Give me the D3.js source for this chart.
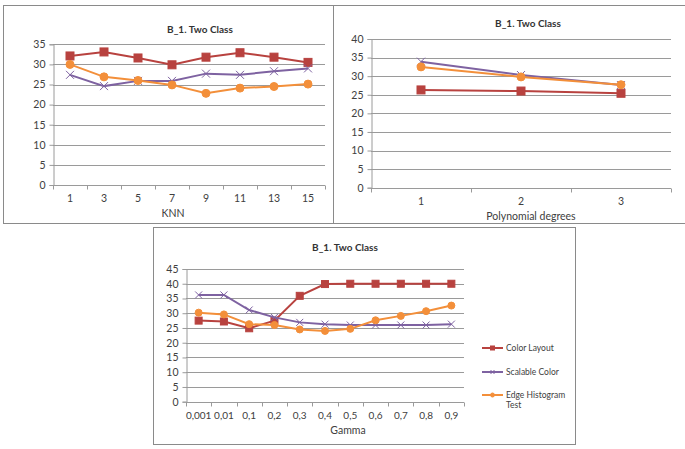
<!DOCTYPE html>
<html><head><meta charset="utf-8">
<script src="https://cdn.jsdelivr.net/npm/d3@7"></script>
<style>
body{margin:0;background:#fff;}
svg{display:block;font-family:Lato,"Open Sans",sans-serif;}
</style></head><body>
<svg id="c" width="685" height="449"></svg>
<script>
const seriesNames = ["Color Layout","Scalable Color","Edge Histogram Test"];
const colors = ["#B8423F","#7E62A1","#F38F3A"];
const markers = ["square","cross","circle"];

const knnCats = ["1","3","5","7","9","11","13","15"];
const knnColor = [32.1,33.1,31.6,29.9,31.8,32.9,31.8,30.5];
const knnScal  = [27.4,24.6,25.9,25.9,27.7,27.4,28.3,29.0];
const knnEdge  = [30.0,26.9,26.0,24.9,22.8,24.1,24.5,25.1];
const knnTicks = [0,5,10,15,20,25,30,35];

const polyCats = ["1","2","3"];
const polyColor = [26.3,26.0,25.4];
const polyScal  = [33.9,30.3,27.6];
const polyEdge  = [32.5,29.8,27.7];
const polyTicks = [0,5,10,15,20,25,30,35,40];

const gamCats = ["0,001","0,01","0,1","0,2","0,3","0,4","0,5","0,6","0,7","0,8","0,9"];
const gamColor = [27.5,27.2,24.9,27.5,35.9,39.9,40,40,40,40,40];
const gamScal  = [36.2,36.2,31.1,28.6,26.9,26.3,26.0,26.0,26.0,26.0,26.3];
const gamEdge  = [30.2,29.6,26.3,26.0,24.5,24.0,24.7,27.6,29.1,30.7,32.6];
const gamTicks = [0,5,10,15,20,25,30,35,40,45];

const svg = d3.select("#c");
const txt = "#404040";
const grid = "#9a9a9a";

function panel(o){
  svg.append("rect").attr("x",o.box[0]+0.5).attr("y",o.box[1]+0.5)
    .attr("width",o.box[2]).attr("height",o.box[3])
    .attr("fill","#fff").attr("stroke","#8a8a8a").attr("stroke-width",1);
  const x = d3.scaleBand().domain(o.cats).range([o.left,o.right]).padding(0);
  const y = d3.scaleLinear().domain([0,o.ymax]).range([o.bottom,o.top]);
  const g = svg.append("g");
  g.selectAll("line.grid").data(o.ticks.filter(t=>t>0)).enter().append("line")
    .attr("x1",o.left).attr("x2",o.right)
    .attr("y1",d=>Math.round(y(d))+0.5).attr("y2",d=>Math.round(y(d))+0.5)
    .attr("stroke",grid).attr("stroke-width",1.2);
  const ya = d3.axisLeft(y).tickValues(o.ticks).tickSize(4).tickPadding(4);
  const yg = g.append("g").attr("transform",`translate(${Math.round(o.left)+0.5},0)`).call(ya);
  yg.select(".domain").attr("stroke",grid);
  yg.selectAll(".tick line").attr("stroke",grid);
  yg.selectAll(".tick text").attr("fill",txt).style("font-size","10.5px").style("font-family","Lato,'Open Sans',sans-serif");
  const xa = d3.axisBottom(x).tickSize(0).tickPadding(9);
  const xg = g.append("g").attr("transform",`translate(0,${Math.round(o.bottom)+0.5})`).call(xa);
  xg.select(".domain").attr("stroke",grid).attr("d",`M${o.left},0H${o.right}`);
  xg.selectAll(".tick text").attr("fill",txt).style("font-size",o.xfs||"10.5px").style("font-family","Lato,'Open Sans',sans-serif");
  const edges = o.cats.map(c=>x(c)).concat([x.range()[1]]);
  xg.selectAll("line.tk").data(edges).enter().append("line")
    .attr("x1",d=>Math.round(d)+0.5).attr("x2",d=>Math.round(d)+0.5).attr("y1",0).attr("y2",4)
    .attr("stroke",grid);
  svg.append("text").attr("x",o.titleX).attr("y",o.titleY).attr("text-anchor","middle")
    .attr("fill","#333").style("font-size","10px").style("font-weight","bold").text("B_1. Two Class");
  svg.append("text").attr("x",o.xlabX).attr("y",o.xlabY).attr("text-anchor","middle")
    .attr("fill",txt).style("font-size","10.5px").text(o.xlab);
  o.series.forEach((vals,i)=>{
    const pts = vals.map((v,j)=>[x(o.cats[j])+x.bandwidth()/2, y(v)]);
    g.append("path").attr("d",d3.line()(pts)).attr("fill","none")
      .attr("stroke",colors[i]).attr("stroke-width",2);
    drawMarkers(g, pts, i, o.ms);
  });
}

function drawMarkers(g, pts, i, s){
  const m = markers[i];
  pts.forEach(p=>{
    if(m==="square"){
      g.append("rect").attr("x",p[0]-s/2).attr("y",p[1]-s/2).attr("width",s).attr("height",s)
        .attr("fill",colors[i]).attr("stroke",colors[i]);
    } else if(m==="circle"){
      g.append("circle").attr("cx",p[0]).attr("cy",p[1]).attr("r",s/2)
        .attr("fill",colors[i]).attr("stroke",colors[i]);
    } else {
      const h=s/2;
      g.append("path").attr("d",`M${p[0]-h},${p[1]-h}L${p[0]+h},${p[1]+h}M${p[0]-h},${p[1]+h}L${p[0]+h},${p[1]-h}`)
        .attr("stroke",colors[i]).attr("stroke-width",1).attr("fill","none");
    }
  });
}

panel({box:[3,5,330,218], cats:knnCats, ticks:knnTicks, ymax:35,
  left:53, right:325, top:44.3, bottom:185, titleX:200, titleY:33,
  xlab:"KNN", xlabX:173, xlabY:217, ms:8,
  series:[knnColor,knnScal,knnEdge]});

panel({box:[333,5,360,218], cats:polyCats, ticks:polyTicks, ymax:40,
  left:371, right:671, top:39, bottom:187.7, titleX:528, titleY:27,
  xlab:"Polynomial degrees", xlabX:531, xlabY:220, ms:8,
  series:[polyColor,polyScal,polyEdge]});

panel({box:[153,227,422,217], cats:gamCats, ticks:gamTicks, ymax:45,
  left:186, right:464, top:269, bottom:401.7, titleX:345, titleY:251,
  xlab:"Gamma", xlabX:348, xlabY:434, ms:7, xfs:"10px",
  series:[gamColor,gamScal,gamEdge]});

const lg = svg.append("g");
const legY = [348,372,395];
seriesNames.forEach((n,i)=>{
  lg.append("line").attr("x1",482).attr("x2",503).attr("y1",legY[i]).attr("y2",legY[i])
    .attr("stroke",colors[i]).attr("stroke-width",2);
  drawMarkers(lg, [[492.5,legY[i]]], i, 4);
});
lg.append("text").attr("x",506).attr("y",legY[0]+3).attr("fill",txt).style("font-size","8.5px").text("Color Layout");
lg.append("text").attr("x",506).attr("y",legY[1]+3).attr("fill",txt).style("font-size","8.5px").text("Scalable Color");
const t3 = lg.append("text").attr("x",506).attr("y",legY[2]+3).attr("fill",txt).style("font-size","8.5px");
t3.append("tspan").attr("x",506).text("Edge Histogram");
t3.append("tspan").attr("x",506).attr("dy",10).text("Test");
</script>
</body></html>
